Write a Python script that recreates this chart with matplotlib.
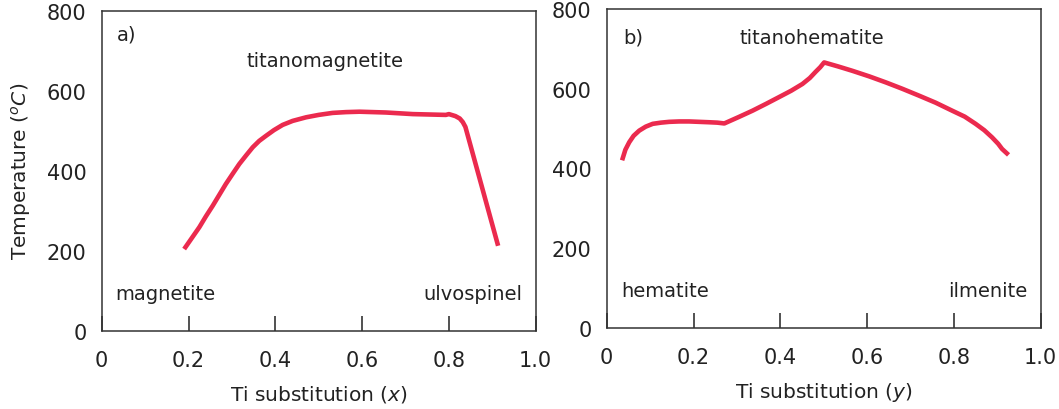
import matplotlib
matplotlib.use("Agg")
import matplotlib.pyplot as plt
import numpy as np

# titanomagnetite series: Ti substitution x vs Curie temperature (C)
x_mag = [0.193, 0.209, 0.225, 0.240, 0.256, 0.271, 0.286, 0.302, 0.317, 0.333,
         0.348, 0.363, 0.379, 0.397, 0.417, 0.440, 0.471, 0.500, 0.532, 0.563,
         0.594, 0.625, 0.655, 0.686, 0.717, 0.755, 0.793, 0.800, 0.815, 0.825,
         0.832, 0.838, 0.875, 0.912]
t_mag = [209, 234, 259, 286, 313, 340, 367, 393, 417, 439,
         459, 475, 488, 502, 515, 525, 534, 540, 545, 547,
         548, 547, 546, 544, 542, 541, 540, 542, 537, 531,
         522, 510, 364, 218]

# titanohematite series: Ti substitution y vs Curie temperature (C)
y_hem = [0.037, 0.043, 0.052, 0.062, 0.075, 0.090, 0.106, 0.125, 0.144, 0.167,
         0.190, 0.213, 0.236, 0.255, 0.271, 0.304, 0.336, 0.367, 0.397, 0.425,
         0.451, 0.468, 0.481, 0.492, 0.501, 0.533, 0.566, 0.605, 0.643, 0.681,
         0.719, 0.758, 0.796, 0.825, 0.850, 0.870, 0.888, 0.902, 0.911, 0.917,
         0.922]
t_hem = [426, 447, 466, 482, 495, 505, 512, 515, 517, 518,
         518, 517, 516, 515, 513, 529, 545, 562, 579, 595,
         612, 627, 642, 654, 666, 656, 645, 631, 616, 600,
         583, 565, 545, 530, 512, 496, 478, 462, 449, 443,
         438]

xticks = [0, 0.2, 0.4, 0.6, 0.8, 1.0]
xticklabels = ["0", "0.2", "0.4", "0.6", "0.8", "1.0"]
yticks = [0, 200, 400, 600, 800]

RED = "#EB2A4E"
INK = "#222222"

W, H = 1059, 410
fig = plt.figure(figsize=(W / 100, H / 100), dpi=100)

def make_axes(left, top, bottom, width=434):
    return fig.add_axes([left / W, 1 - bottom / H, width / W, (bottom - top) / H])

def style(ax, xlabel):
    ax.set_xlim(0, 1)
    ax.set_ylim(0, 800)
    ax.set_xticks(xticks)
    ax.set_xticklabels(xticklabels)
    ax.set_yticks(yticks)
    ax.tick_params(axis="x", direction="in", length=11, width=1.1, pad=14,
                   labelsize=15, colors=INK)
    ax.tick_params(axis="y", length=0, pad=11, labelsize=15, colors=INK)
    for sp in ax.spines.values():
        sp.set_color("#333333")
        sp.set_linewidth(1.1)
    ax.set_xlabel(xlabel, fontsize=14.5, color=INK, labelpad=9)

ax1 = make_axes(101.7, 12, 331.7)
ax1.plot(x_mag, t_mag, color=RED, lw=3.3, solid_joinstyle="round")
style(ax1, r"Ti substitution ($x$)")
ax1.set_ylabel(r"Temperature ($^{o}C$)", fontsize=14.5, color=INK, labelpad=10)
ax1.text(0.035, 742, "a)", fontsize=14, color=INK, va="center", ha="left")
ax1.text(0.514, 675, "titanomagnetite", fontsize=14, color=INK, va="center", ha="center")
ax1.text(0.031, 94, "magnetite", fontsize=14, color=INK, va="center", ha="left")
ax1.text(0.970, 94, "ulvospinel", fontsize=14, color=INK, va="center", ha="right")

ax2 = make_axes(606.7, 10, 329)
ax2.plot(y_hem, t_hem, color=RED, lw=3.3, solid_joinstyle="round")
style(ax2, r"Ti substitution ($y$)")
ax2.text(0.039, 731, "b)", fontsize=14, color=INK, va="center", ha="left")
ax2.text(0.473, 728, "titanohematite", fontsize=14, color=INK, va="center", ha="center")
ax2.text(0.033, 94, "hematite", fontsize=14, color=INK, va="center", ha="left")
ax2.text(0.970, 94, "ilmenite", fontsize=14, color=INK, va="center", ha="right")

fig.savefig("out.png", dpi=100)
